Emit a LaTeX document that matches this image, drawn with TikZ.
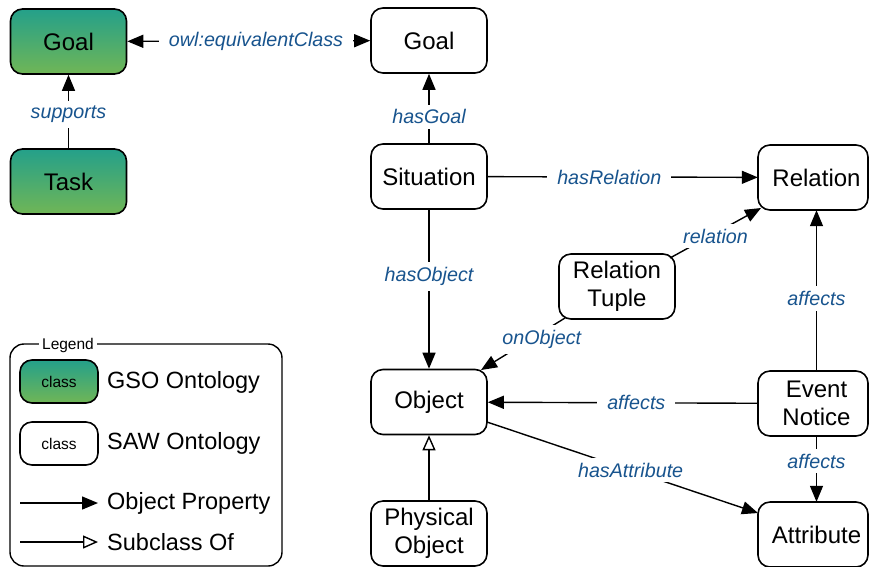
\documentclass[tikz,border=0pt]{standalone}
\usepackage{fontspec}
\setmainfont{Liberation Sans}
\usetikzlibrary{arrows.meta}
\definecolor{gtop}{RGB}{36,160,138}
\definecolor{gbot}{RGB}{112,182,86}
\definecolor{lblue}{RGB}{24,84,142}
\tikzset{
  cls/.style={draw=black, line width=1.6pt, rounded corners=12pt, minimum width=116pt, minimum height=65pt, inner sep=0pt, align=center, font=\fontsize{24}{27.5}\selectfont},
  gso/.style={cls, top color=gtop, bottom color=gbot},
  saw/.style={cls, fill=white},
  rtxt/.style={minimum width=117pt, minimum height=65pt, inner sep=0pt, align=center, font=\fontsize{24}{27.5}\selectfont},
  frame/.style={draw=black, line width=1.6pt, rounded corners=12pt, fill=white},
  lbl/.style={fill=white, text=lblue, font=\fontsize{19.7}{22}\selectfont\itshape, inner xsep=10pt, inner ysep=5pt},
  tip/.tip={Triangle[length=16pt, width=13pt]},
  prop/.style={line width=1.4pt, -tip},
  sub/.style={line width=1.4pt, -{Triangle[open, length=15pt, width=13pt, line width=1.4pt]}},
  legtxt/.style={anchor=west, font=\fontsize{23.5}{27}\selectfont, inner sep=0pt},
}
\begin{document}
\begin{tikzpicture}[x=1pt, y=-1pt]
\useasboundingbox (0,0) rectangle (869,566);
% GSO
\node[gso] (ggoal) at (68.5,41.5) {Goal};
\node[gso] (task) at (68.5,181.5) {Task};
% SAW
\node[saw] (goal) at (429,40.5) {Goal};
\node[saw] (sit) at (429,176.5) {Situation};
\node[saw] (rt) at (617,286.5) {Relation\\Tuple};
\node[saw] (obj) at (429,402) {Object};
\node[saw] (phys) at (429,533.5) {Physical\\Object};
% right column (boxes cut at the right edge)
\draw[frame] (758,145) rectangle (868,210);
\draw[frame] (758,371) rectangle (868,436);
\draw[frame] (758,502) rectangle (868,567);
\node[rtxt] (rel) at (816.5,177.5) {Relation};
\node[rtxt] (ev) at (816.5,403.5) {Event\\Notice};
\node[rtxt] (attr) at (816.5,534.5) {Attribute};
% edges
\draw[line width=1.4pt, tip-tip] (ggoal) -- node[lbl, pos=0.53] {owl:equivalentClass} (goal);
\draw[prop] (task) -- node[lbl, pos=0.49, yshift=-2pt] {supports} (ggoal);
\draw[prop] (sit) -- node[lbl, pos=0.38] {hasGoal} (goal);
\draw[prop] (sit) -- node[lbl, pos=0.45] {hasRelation} (rel);
\draw[prop] (sit) -- node[lbl, pos=0.42] {hasObject} (obj);
\coordinate (rtne) at (670,258);
\coordinate (relsw) at (761,208);
\draw[prop] (rtne) -- node[lbl, pos=0.5, yshift=-3pt] {relation} (relsw);
\coordinate (rtsw) at (565,318);
\coordinate (objne) at (481,370);
\draw[prop] (rtsw) -- node[lbl, pos=0.3, yshift=-6pt, xshift=2pt] {onObject} (objne);
\draw[prop] (ev) -- node[lbl, pos=0.45] {affects} (obj);
\draw[prop] (ev) -- node[lbl, pos=0.45] {affects} (rel);
\draw[prop] (ev) -- node[lbl, pos=0.38] {affects} (attr);
\coordinate (objse) at (487,422);
\coordinate (attrnw) at (758,513);
\draw[prop] (objse) -- node[lbl, pos=0.53] {hasAttribute} (attrnw);
\draw[sub] (phys) -- (obj);
% legend
\draw[line width=1.4pt, rounded corners=14pt] (10,344) rectangle (282,566);
\node[fill=white, font=\fontsize{15.5}{18}\selectfont, inner sep=3pt] (legt) at (68,345) {Legend};
\node[cls, top color=gtop, bottom color=gbot, minimum width=78pt, minimum height=43pt, font=\fontsize{15.5}{18}\selectfont] (lg) at (59,381.5) {class};
\node[cls, fill=white, minimum width=78pt, minimum height=43pt, font=\fontsize{15.5}{18}\selectfont] (ls) at (59,443.5) {class};
\node[legtxt] (lgt) at (107,382) {GSO Ontology};
\node[legtxt] (lst) at (107,443) {SAW Ontology};
\coordinate (pa) at (20,503);
\coordinate (pb) at (98,503);
\coordinate (sa) at (20,542);
\coordinate (sb) at (98,542);
\draw[prop] (pa) -- (pb);
\draw[sub] (sa) -- (sb);
\node[legtxt] (opt) at (107,503) {Object Property};
\node[legtxt] (sct) at (107,542) {Subclass Of};
\end{tikzpicture}
\end{document}
